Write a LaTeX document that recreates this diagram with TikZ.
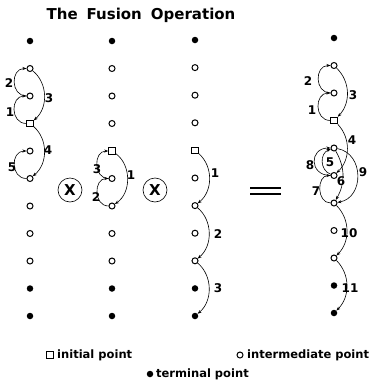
\documentclass[tikz,border=0pt]{standalone}
\usepackage{fontspec}
\setmainfont{DejaVu Sans}
\usetikzlibrary{arrows.meta}

\tikzset{
  termpt/.style={circle, fill, inner sep=0pt, minimum size=6.5pt},
  interpt/.style={circle, draw, line width=1pt, inner sep=0pt, minimum size=6pt},
  initpt/.style={rectangle, draw, line width=1pt, inner sep=0pt, minimum size=6.5pt},
  move/.style={line width=0.6pt, -{Stealth[length=4pt,width=3pt]}},
  num/.style={font=\fontsize{12}{12}\selectfont\bfseries, inner sep=0pt},
  legend/.style={font=\fontsize{11.5}{12}\selectfont\bfseries, inner sep=0pt, anchor=west},
  timesop/.style={circle, draw, line width=0.6pt, minimum size=24pt, inner sep=0pt,
                  font=\fontsize{15}{15}\selectfont\bfseries},
}

\begin{document}
\begin{tikzpicture}[x=1pt, y=-1pt]
  \useasboundingbox (0,0) rectangle (375,386);

  \node[font=\fontsize{15}{15}\selectfont\bfseries] (title) at (141,15)
       {The\hspace{9pt}Fusion\hspace{9pt}Operation};

  % the four columns of points
  \foreach \s [count=\i] in {termpt,interpt,interpt,initpt,interpt,interpt,interpt,interpt,interpt,termpt,termpt}
    \node[\s] (a\i) at (30,{41+27.5*(\i-1)}) {};
  \foreach \s [count=\i] in {termpt,interpt,interpt,interpt,initpt,interpt,interpt,interpt,interpt,termpt,termpt}
    \node[\s] (b\i) at (112,{41+27.5*(\i-1)}) {};
  \foreach \s [count=\i] in {termpt,interpt,interpt,interpt,initpt,interpt,interpt,interpt,interpt,termpt,termpt}
    \node[\s] (c\i) at (195,{40+27.6*(\i-1)}) {};
  \foreach \s [count=\i] in {termpt,interpt,interpt,initpt,interpt,interpt,interpt,interpt,interpt,termpt,termpt}
    \node[\s] (d\i) at (334,{38+27.5*(\i-1)}) {};

  % first path
  \draw[move] (a4) to[bend left=90, looseness=1.5] (a3);
  \draw[move] (a3) to[bend left=90, looseness=1.5] (a2);
  \draw[move] (a2) to[bend left=50] (a4);
  \draw[move] (a4) to[bend left=50] (a6);
  \draw[move] (a6) to[bend left=90, looseness=1.5] (a5);
  \node[num] (a-n1) at (10,112) {1};
  \node[num] (a-n2) at (9,83) {2};
  \node[num] (a-n3) at (49,98) {3};
  \node[num] (a-n4) at (48,150) {4};
  \node[num] (a-n5) at (12,167) {5};

  \node[timesop] (op1) at (70,190) {X};

  % second path
  \draw[move] (b5) to[bend left=55] (b7);
  \draw[move] (b7) to[bend left=90, looseness=1.4] (b6);
  \draw[move] (b6) to[bend left=90, looseness=1.4] (b5);
  \node[num] (b-n1) at (131,175) {1};
  \node[num] (b-n2) at (96,197) {2};
  \node[num] (b-n3) at (97,169) {3};

  \node[timesop] (op2) at (155,190) {X};

  % third path
  \draw[move] (c5) to[bend left=50] (c7);
  \draw[move] (c7) to[bend left=50] (c9);
  \draw[move] (c9) to[bend left=50] (c11);
  \node[num] (c-n1) at (215,173) {1};
  \node[num] (c-n2) at (218,234) {2};
  \node[num] (c-n3) at (218,288) {3};

  \draw[line width=1.8pt] (250,188) -- (281,188);
  \draw[line width=1.8pt] (250,194) -- (281,194);

  % fused path
  \draw[move] (d4) to[bend left=90, looseness=1.5] (d3);
  \draw[move] (d3) to[bend left=90, looseness=1.5] (d2);
  \draw[move] (d2) to[bend left=45] (d4);
  \draw[move] (d4) to[bend left=45] (d6);
  \draw[move] (d6) to[bend left=70, looseness=1.2] (d5);
  \draw[move] (d5) to[bend left=30] (d7);
  \draw[move] (d7) to[bend left=90, looseness=1.3] (d6);
  \draw[move] (d6) to[bend left=90, looseness=2.0] (d5);
  \draw[move] (d5) to[bend left=80, looseness=1.3] (d7);
  \draw[move] (d7) to[bend left=45] (d9);
  \draw[move] (d9) to[bend left=45] (d11);
  \node[num] (d-n1) at (312,110) {1};
  \node[num] (d-n2) at (308,81) {2};
  \node[num] (d-n3) at (353,95) {3};
  \node[num] (d-n4) at (352,140) {4};
  \node[num] (d-n5) at (330,162) {5};
  \node[num] (d-n6) at (341,181) {6};
  \node[num] (d-n7) at (316,191) {7};
  \node[num] (d-n8) at (310,165) {8};
  \node[num] (d-n9) at (363,172) {9};
  \node[num] (d-n10) at (349,233) {10};
  \node[num] (d-n11) at (350,288) {11};

  % legend
  \node[initpt] (key-init) at (50,355) {};
  \node[legend] (key-init-txt) at (57,355) {initial point};
  \node[interpt] (key-inter) at (240,355) {};
  \node[legend] (key-inter-txt) at (247,355) {intermediate point};
  \node[termpt] (key-term) at (150,374) {};
  \node[legend] (key-term-txt) at (156,374) {terminal point};
\end{tikzpicture}
\end{document}
